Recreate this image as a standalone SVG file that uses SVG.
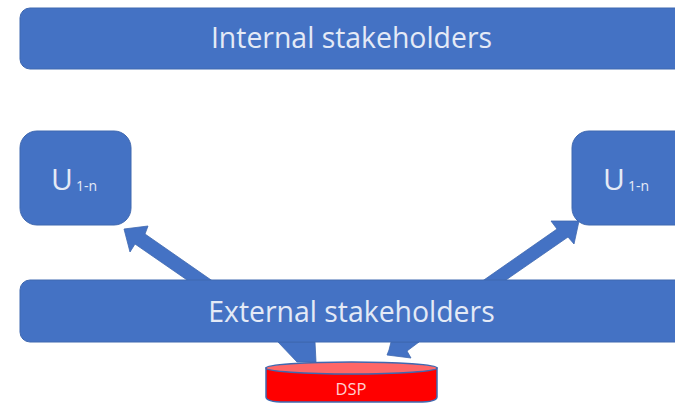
<svg xmlns="http://www.w3.org/2000/svg" width="675" height="403" viewBox="0 0 675 403">
<style>
text{font-family:"Open Sans","Noto Sans","Liberation Sans",sans-serif;fill:#e4eaf6}
.box{fill:#4472c4;stroke:#3f68b0;stroke-width:1}
.arr{fill:#4472c4;stroke:#3f68b0;stroke-width:.8}
.band{font-size:28.400px;text-anchor:middle}
.u{font-size:30px}
.s{font-size:14px}
</style>
<rect width="675" height="403" fill="#fff"/>
<g id="connectors">
<polygon class="arr" points="124,229 148,226 145,234 214,282 190,282 135,244 130,252"/>
<polygon class="arr" points="579,221 574,244 568,237 503,282 481,282 557,229 551,221"/>
<polygon class="arr" points="278,342 315,342 316,362 297,362"/>
<polygon class="arr" points="391,342 419,342 407,351 411,358 387,355 389,350"/>
</g>
<g id="internal"><rect class="box" x="20" y="8" width="675" height="61" rx="10"/><text class="band" x="351.500" y="48">Internal stakeholders</text></g>
<g id="u-left"><rect class="box" x="20" y="131" width="111" height="94" rx="17"/><text class="u" x="51" y="190">U</text><text class="s" x="76" y="191">1-n</text></g>
<g id="u-right"><rect class="box" x="572" y="131" width="125" height="94" rx="17"/><text class="u" x="603" y="190">U</text><text class="s" x="628" y="191">1-n</text></g>
<g id="external"><rect class="box" x="20" y="280" width="675" height="62" rx="10"/><text class="band" x="351.500" y="322">External stakeholders</text></g>
<g id="dsp">
<path d="M266 368V397Q266 402 285 402H418Q437 402 437 397V368Z" fill="#f00" stroke="#3f68b0" stroke-width="1.5"/>
<ellipse cx="351.500" cy="368" rx="85.500" ry="6" fill="#ff6666" stroke="#3f68b0" stroke-width="1.5"/>
<text x="351" y="395" font-size="16.500" text-anchor="middle" style="fill:#ffd0d0">DSP</text>
</g>
</svg>
